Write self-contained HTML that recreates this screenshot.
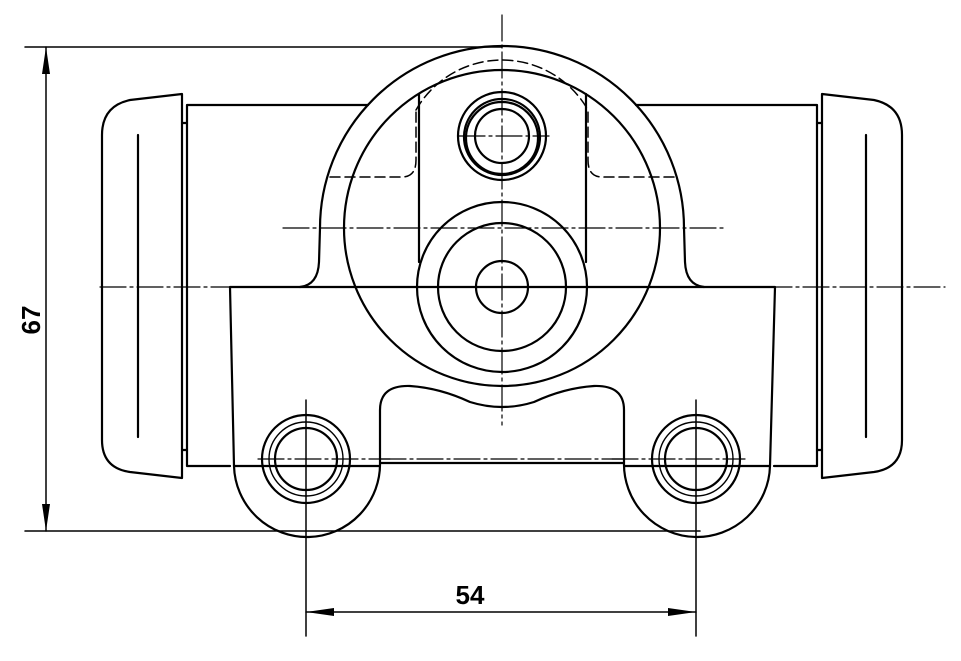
<!DOCTYPE html>
<html><head><meta charset="utf-8"><style>
html,body{margin:0;padding:0;background:#fff;width:961px;height:661px;overflow:hidden}
svg{display:block}
</style></head><body>
<svg width="961" height="661" viewBox="0 0 961 661" xmlns="http://www.w3.org/2000/svg" fill="none" stroke="#000" stroke-width="2.2" stroke-linecap="round" stroke-linejoin="round">
<g stroke-width="1.5">
<line x1="25" y1="47" x2="502" y2="47"/>
<line x1="25" y1="531" x2="700" y2="531"/>
<line x1="46" y1="47" x2="46" y2="531"/>
<line x1="306" y1="400" x2="306" y2="636"/>
<line x1="696" y1="400" x2="696" y2="636"/>
<line x1="306" y1="612" x2="696" y2="612"/>
</g>
<g fill="#000" stroke="none">
<polygon points="46,47 42,74 50,74"/>
<polygon points="46,531 42,504 50,504"/>
<polygon points="306,612 334,608 334,616"/>
<polygon points="696,612 668,608 668,616"/>
</g>
<text x="470" y="604" font-family="Liberation Sans, sans-serif" font-weight="bold" font-size="26" fill="#000" stroke="none" text-anchor="middle">54</text>
<text transform="translate(40,320) rotate(-90)" font-family="Liberation Sans, sans-serif" font-weight="bold" font-size="26" fill="#000" stroke="none" text-anchor="middle">67</text>

<path d="M182,94 L130,100 Q102,106 102,135 L102,440 Q102,468 130,472 L182,478 Z"/>
<line x1="138" y1="135" x2="138" y2="437"/>
<path d="M182,123 L187,123 M182,450 L187,450"/>
<path d="M822,94 L874,100 Q902,106 902,135 L902,440 Q902,468 874,472 L822,478 Z"/>
<line x1="866" y1="135" x2="866" y2="437"/>
<path d="M822,123 L817,123 M822,450 L817,450"/>
<path d="M187,105 L368,105 M636,105 L817,105 L817,466 L774,466 M187,105 L187,466 L230,466"/>
<path d="M300,287 Q318,285 319,262 L320,228 A182,182 0 0 1 684,228 L685,262 Q686,285 704,287"/>
<circle cx="502" cy="228" r="158"/>
<path d="M230,287 L775,287 M230,287 L234,466 A73,73 0 0 0 380,462 L380,410 Q380,385 410,386 Q440,388 470,402 Q502,412 534,402 Q564,388 594,386 Q624,385 624,410 L624,462 A73,73 0 0 0 770,466 L775,287"/>
<line x1="234" y1="466" x2="380" y2="466"/>
<line x1="380" y1="463" x2="624" y2="463"/>
<line x1="624" y1="466" x2="770" y2="466"/>
<circle cx="306" cy="459" r="44"/>
<circle cx="306" cy="459" r="37" stroke-width="1.4"/>
<circle cx="306" cy="459" r="31"/>
<circle cx="696" cy="459" r="44"/>
<circle cx="696" cy="459" r="37" stroke-width="1.4"/>
<circle cx="696" cy="459" r="31"/>
<line x1="419" y1="94" x2="419" y2="262"/>
<line x1="586" y1="94" x2="586" y2="262"/>
<g stroke-width="1.5" stroke-dasharray="10,5">
<path d="M416,110 A99,99 0 0 1 588,110"/>
<path d="M330,177 L402,177 Q416,177 416,160 L416,110"/>
<path d="M674,177 L602,177 Q588,177 588,160 L588,110"/>
</g>
<circle cx="502" cy="136" r="44"/>
<circle cx="502" cy="137" r="38"/>
<circle cx="502" cy="138" r="36"/>
<circle cx="502" cy="136" r="27"/>
<circle cx="502" cy="287" r="85"/>
<circle cx="502" cy="287" r="64"/>
<circle cx="502" cy="287" r="26"/>
<g stroke-width="1.2" stroke-dasharray="26,4,3,4">
<line x1="100" y1="287" x2="945" y2="287"/>
<line x1="283" y1="228" x2="725" y2="228"/>
<line x1="502" y1="15" x2="502" y2="425"/>
<line x1="459" y1="136" x2="549" y2="136"/>
<line x1="258" y1="459" x2="390" y2="459"/>
<line x1="612" y1="459" x2="745" y2="459"/>
<line x1="380" y1="459" x2="624" y2="459"/>
</g>
</svg>
</body></html>
